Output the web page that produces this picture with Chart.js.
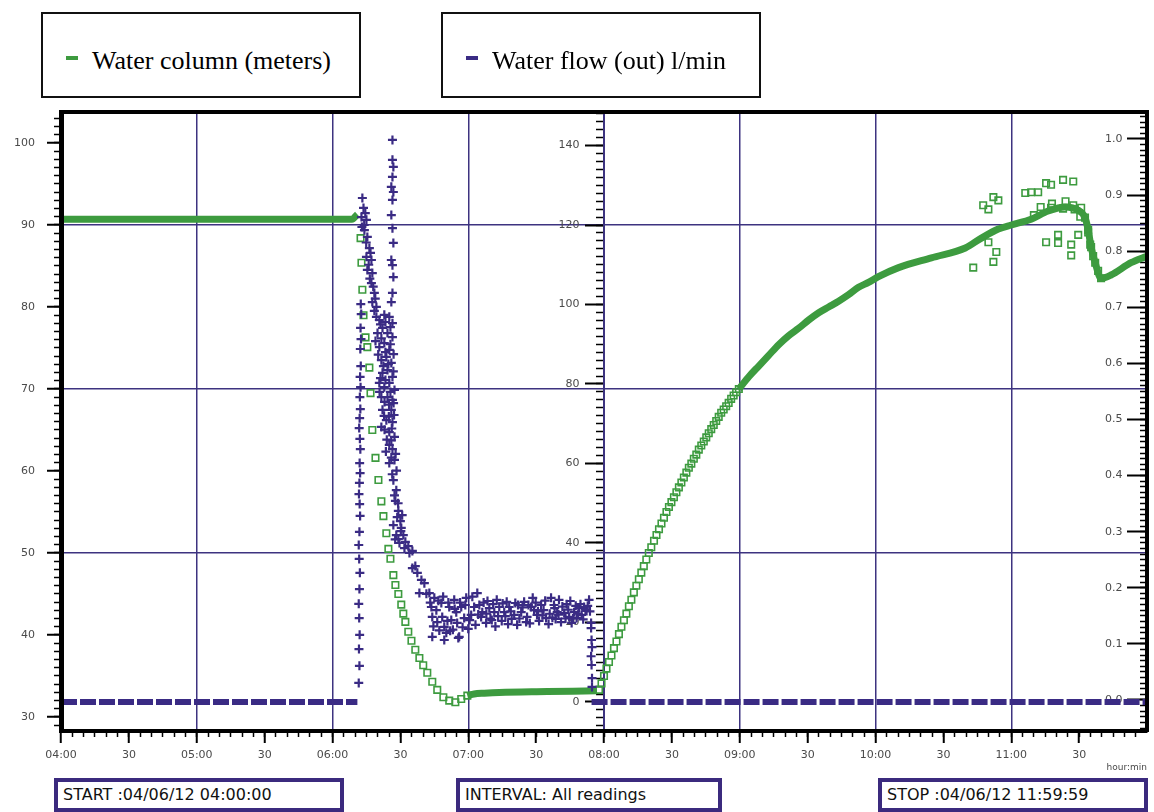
<!DOCTYPE html>
<html>
<head>
<meta charset="utf-8">
<title>Water column / water flow</title>
<script src="https://cdn.jsdelivr.net/npm/chart.js@4.4.1/dist/chart.umd.min.js"></script>
<style>
  body { margin: 0; background: #fff; }
  #wrap { position: relative; width: 1154px; height: 812px; }
  #chart { position: absolute; left: 0; top: 0; }
  .lg { position: absolute; top: 12px; width: 320px; height: 86px; box-sizing: border-box;
        border: 2px solid #111; background: #fff; }
  .lg .mk { position: absolute; left: 23px; top: 42px; width: 12px; height: 4px; }
  .lg .tx { position: absolute; left: 49px; top: 34px; font: 26px/26px "Liberation Serif", serif; color: #000; white-space: nowrap; }
  .info { position: absolute; top: 778px; height: 34px; box-sizing: border-box; border: 4px solid #3b2a7e;
          background: #fff; font: 16px/26px "DejaVu Sans", sans-serif; color: #111; padding-left: 5px; white-space: nowrap; }
</style>
</head>
<body>
<div id="wrap">
  <canvas id="chart" width="1154" height="812"></canvas>

  <div class="lg" style="left:41px"><span class="mk" style="background:#3d9b3f"></span><span class="tx">Water column (meters)</span></div>
  <div class="lg" style="left:441px"><span class="mk" style="background:#3a2b84"></span><span class="tx">Water flow (out) l/min</span></div>

  <div class="info" style="left:54px; width:290px">START :04/06/12 04:00:00</div>
  <div class="info" style="left:456px; width:266px">INTERVAL: All readings</div>
  <div class="info" style="left:878px; width:270px">STOP :04/06/12 11:59:59</div>
</div>

<script>
// time axis in minutes after midnight (04:00 = 240, 12:00 = 720)
const timeTicks = [240, 270, 300, 330, 360, 390, 420, 450, 480, 510, 540, 570, 600, 630, 660, 690];
const timeTickLabels = ["04:00", "30", "05:00", "30", "06:00", "30", "07:00", "30",
                        "08:00", "30", "09:00", "30", "10:00", "30", "11:00", "30"];

const leftTicks = [30, 40, 50, 60, 70, 80, 90, 100];
const midTicks = [0, 20, 40, 60, 80, 100, 120, 140];
const rightTicks = [0, 0.1, 0.2, 0.3, 0.4, 0.5, 0.6, 0.7, 0.8, 0.9, 1.0];
const rightTickLabels = ["0.0", "0.1", "0.2", "0.3", "0.4", "0.5", "0.6", "0.7", "0.8", "0.9", "1.0"];

// water column (m) - solid parts of the trace, [time, value]; null breaks the line
const waterColumnLine = [
  [240, 90.7], [368.6, 90.7], [371.0, 91.3], [371.1, null],
  [419.6, 32.6], [422.6, 32.8], [427.1, 32.9], [433.7, 33.0], [455.0, 33.1], [476.9, 33.2], [477.0, null],
  [539.6, 70.0], [544.0, 71.5], [548.4, 72.8], [552.8, 74.1], [557.2, 75.4], [561.6, 76.5], [566.0, 77.4],
  [570.4, 78.4], [574.9, 79.3], [579.3, 80.0], [583.7, 80.7], [588.1, 81.5], [592.5, 82.4], [596.9, 83.0],
  [601.3, 83.7], [610.2, 84.8], [624.7, 86.0], [639.7, 87.2], [646.8, 88.4], [654.3, 89.5], [660.0, 90.0],
  [668.8, 90.7], [676.3, 91.7], [683.8, 92.2], [689.6, 91.8], [692.6, 90.9], [694.0, 89.4], [695.3, 87.3],
  [697.1, 85.4], [699.7, 83.5], [704.1, 83.9], [712.9, 85.4], [720.0, 86.2]
];

// water column (m) - single readings
const waterColumnReadings = [
  // drop
  [372.4, 88.4], [372.8, 85.4], [373.2, 82.1], [373.7, 79.0], [374.6, 76.3], [375.4, 75.1], [376.3, 72.6],
  [376.8, 69.5], [377.6, 65.0], [379.0, 61.6], [380.3, 58.9], [381.6, 56.3], [382.5, 54.5], [383.8, 52.4],
  [384.7, 50.5], [385.6, 49.3], [386.9, 47.3], [387.8, 46.1], [389.1, 45.0], [390.4, 43.7], [391.3, 42.6],
  [392.2, 41.6], [393.5, 40.4], [394.9, 39.3], [396.6, 38.2], [398.4, 37.2], [400.1, 36.3], [401.9, 35.4],
  [404.1, 34.3], [406.3, 33.3], [409.0, 32.4], [411.6, 32.0], [414.3, 31.8], [416.9, 32.2], [419.6, 32.6],
  // recovery 08:00 - 09:00
  [477.8, 33.3], [478.9, 34.1], [480.0, 35.0], [481.1, 35.9], [482.2, 36.7], [483.3, 37.5], [484.4, 38.4],
  [485.5, 39.2], [486.6, 40.1], [487.7, 41.0], [488.8, 41.8], [489.9, 42.6], [491.0, 43.5], [492.1, 44.3],
  [493.2, 45.2], [494.3, 46.0], [495.4, 46.8], [496.5, 47.6], [497.6, 48.4], [498.7, 49.2], [499.8, 50.0],
  [500.9, 50.7], [502.1, 51.5], [503.2, 52.2], [504.3, 52.9], [505.4, 53.6], [506.5, 54.3], [507.6, 55.0],
  [508.7, 55.6], [509.8, 56.2], [510.9, 56.8], [512.0, 57.4], [513.1, 58.0], [514.2, 58.6], [515.3, 59.2],
  [516.4, 59.8], [517.5, 60.4], [518.6, 60.9], [519.7, 61.5], [520.8, 62.0], [521.9, 62.6], [523.0, 63.1],
  [524.1, 63.6], [525.2, 64.1], [526.3, 64.6], [527.4, 65.1], [528.5, 65.6], [529.6, 66.1], [530.7, 66.6],
  [531.8, 67.1], [532.9, 67.5], [534.0, 67.9], [535.1, 68.3], [536.2, 68.8], [537.3, 69.2], [538.4, 69.6],
  [539.6, 70.0],
  // scatter around 10:40 - 11:35
  [643.2, 84.8], [647.6, 92.4], [649.9, 91.9], [649.9, 87.9], [652.1, 93.4], [652.1, 85.5], [653.4, 86.7],
  [654.3, 93.0], [666.2, 93.9], [668.8, 94.0], [671.9, 94.0], [675.4, 95.1], [675.4, 87.9], [677.6, 94.9],
  [677.6, 92.1], [680.7, 88.8], [680.7, 87.8], [682.9, 95.5], [682.9, 92.0], [686.5, 87.6], [686.5, 86.3],
  [687.4, 95.3], [687.4, 92.4], [689.6, 88.8], [690.9, 92.1], [694.0, 89.1], [694.9, 87.6],
  [670.0, 91.2], [673.0, 92.2], [678.0, 92.6], [684.0, 92.9], [688.0, 91.9], [690.5, 91.0],
  [692.6, 90.9], [694.0, 89.4], [695.3, 87.3], [696.2, 86.2], [697.1, 85.4], [698.4, 84.4], [699.7, 83.5]
];

// water flow (l/min) - baseline at zero, [time, value]
const flowBaseline = [[240, 0], [371.0, 0], [371.1, null], [474.5, 0], [720, 0]];

// water flow (l/min) - single readings during the event
const flowReadings = [
  // rising edge
  [371.6, 4.8], [371.9, 9.1], [371.7, 13.3], [372.0, 16.9], [371.8, 21.1], [371.6, 24.7], [371.9, 28.4],
  [372.1, 32.5], [371.8, 36.0], [371.6, 39.5], [371.9, 42.8], [372.2, 46.8], [372.0, 49.8], [371.7, 52.3],
  [371.9, 55.1], [372.2, 57.6], [372.0, 60.1], [372.3, 63.6], [372.1, 66.2], [371.8, 68.9], [372.0, 71.4],
  [372.3, 73.7], [372.1, 76.7], [372.4, 79.2], [372.2, 81.8], [372.5, 84.5], [372.3, 88.8], [372.6, 91.3],
  [372.4, 94.1], [372.7, 97.6], [372.5, 100.1],
  // first peak
  [373.2, 126.8], [373.7, 124.3], [372.8, 122.0], [375.0, 121.3], [374.1, 118.7], [375.4, 117.0],
  [376.3, 114.2], [375.0, 112.0], [377.2, 111.2], [375.4, 108.7], [377.6, 107.9], [377.2, 105.4],
  [378.5, 102.9], [377.6, 100.6], [379.4, 99.4], [374.5, 123.0], [373.0, 119.5], [374.9, 115.6],
  [376.8, 113.0], [376.0, 110.0], [378.0, 104.5], [378.9, 101.5], [376.5, 106.5], [374.0, 120.0],
  // second peak
  [386.5, 141.4], [386.5, 136.4], [386.9, 134.6], [386.5, 132.1], [386.0, 129.6], [386.9, 128.3],
  [386.5, 126.3], [386.0, 122.5], [386.5, 119.2], [386.9, 115.5], [386.0, 111.2], [386.5, 109.9],
  [386.9, 106.9], [386.5, 102.9], [386.0, 100.6],
  // main block
  [379.4, 96.9], [380.7, 96.1], [382.9, 97.4], [385.1, 96.9], [386.5, 95.3], [379.9, 92.8], [382.1, 94.1],
  [384.3, 92.8], [386.5, 91.8], [380.7, 89.3], [382.9, 90.3], [385.1, 88.6], [381.6, 86.0], [383.8, 86.8],
  [386.0, 85.3], [382.1, 82.8], [384.3, 83.5], [386.5, 81.8], [380.7, 80.3], [382.9, 79.2], [385.1, 80.3],
  [387.4, 78.5], [381.6, 76.7], [384.3, 76.7], [386.5, 76.0], [382.1, 73.5], [386.0, 73.5], [383.8, 70.9],
  [386.5, 70.4], [381.6, 69.2], [385.1, 67.9], [387.4, 66.7], [385.1, 64.7], [386.5, 63.6], [387.4, 60.9],
  [378.5, 98.4], [381.2, 95.0], [383.4, 95.6], [385.6, 94.3], [379.0, 90.8], [381.6, 91.5], [383.4, 88.0],
  [385.6, 90.0], [387.0, 87.5], [380.2, 87.4], [382.5, 84.5], [384.7, 85.0], [386.9, 83.2], [381.2, 81.5],
  [383.4, 81.0], [385.6, 78.0], [387.0, 75.2], [380.8, 78.0], [383.0, 75.5], [385.0, 74.8], [382.8, 72.0],
  [384.9, 71.8], [387.2, 72.2], [383.0, 68.5], [386.2, 68.8], [384.0, 66.0], [386.0, 65.8], [383.6, 63.0],
  [386.0, 61.5], [387.9, 62.4], [388.3, 58.2], [386.4, 57.3],
  // fall
  [385.1, 60.1], [386.9, 55.8], [388.2, 53.3], [387.8, 50.6], [389.1, 48.1], [390.0, 45.5], [386.9, 44.5],
  [390.4, 43.8], [391.3, 42.0], [388.2, 42.0], [389.1, 41.0], [392.2, 40.3], [389.6, 40.0], [393.5, 39.2],
  [391.8, 38.7], [395.3, 38.0], [394.0, 37.5], [396.6, 34.2], [395.3, 33.7], [397.5, 32.5], [399.3, 30.7],
  [400.6, 29.9], [398.4, 27.4], [401.5, 27.2], [387.4, 52.0], [389.0, 50.0], [388.6, 46.5], [390.8, 47.0],
  [390.2, 43.0], [387.7, 40.9],
  // steady flow 06:45 - 08:00
  [402.8, 27.4], [403.7, 23.9], [404.1, 21.4], [405.0, 26.2], [405.9, 23.1], [406.3, 20.1], [404.1, 16.4],
  [408.1, 24.9], [408.5, 21.4], [409.4, 18.9], [410.3, 17.4], [411.6, 23.9], [412.5, 20.6], [413.8, 25.7],
  [414.7, 22.6], [415.1, 19.9], [416.0, 16.4], [416.9, 23.9], [418.2, 21.1], [419.1, 26.2], [421.3, 21.9],
  [422.6, 23.9], [424.0, 27.4], [424.9, 24.4], [425.7, 21.4], [426.2, 22.6], [427.9, 19.9], [429.3, 23.6],
  [431.5, 22.6], [433.7, 23.9], [435.9, 22.6], [438.1, 23.9], [440.3, 21.9], [441.6, 19.4], [443.4, 22.6],
  [444.7, 25.2], [446.0, 21.4], [447.8, 23.9], [449.1, 23.1], [450.4, 21.9], [452.2, 24.4], [454.4, 21.1],
  [456.6, 26.2], [457.9, 24.4], [459.3, 22.6], [461.0, 20.1], [462.4, 22.4], [464.6, 21.4], [466.8, 22.6],
  [469.0, 23.6], [471.2, 23.9], [473.4, 25.7],
  [409.4, 15.6], [412.0, 17.9], [415.6, 16.1], [420.0, 18.4],
  [428.5, 25.4], [430.4, 20.6], [432.6, 25.7], [434.8, 20.4], [437.0, 25.2], [439.2, 20.9], [442.0, 24.4],
  [445.6, 20.1], [448.5, 26.2], [451.3, 20.4], [453.3, 23.1], [455.5, 19.6], [458.6, 20.9], [460.1, 25.7],
  [463.5, 24.6], [465.7, 19.9], [467.9, 21.1], [470.1, 21.9], [472.3, 22.9],
  [403.2, 25.0], [404.6, 19.0], [406.8, 25.5], [407.2, 18.0], [408.9, 26.5], [410.8, 20.4], [411.2, 25.0],
  [413.2, 18.2], [414.0, 23.4], [416.4, 25.0], [417.5, 18.8], [418.7, 24.4], [420.6, 20.6], [421.8, 26.5],
  [423.2, 19.4], [424.4, 22.0], [426.8, 25.0], [428.0, 22.2], [429.8, 21.0], [431.0, 24.6], [432.0, 19.0],
  [433.2, 21.6], [435.2, 24.8], [436.4, 21.6], [437.6, 19.6], [438.8, 22.8], [440.8, 24.9], [442.6, 21.0],
  [444.0, 23.8], [446.6, 24.4], [447.2, 19.8], [449.8, 25.0], [450.8, 22.8], [452.8, 21.8], [454.0, 25.5],
  [456.0, 22.2], [457.2, 21.2], [458.2, 23.6], [459.9, 22.0], [461.6, 24.0], [463.0, 21.0], [464.2, 23.2],
  [465.1, 25.4], [466.3, 21.0], [467.5, 24.2], [468.6, 22.2], [469.6, 24.6], [470.8, 20.8], [471.8, 23.2],
  [472.8, 24.2], [473.8, 22.8],
  // stop
  [474.3, 19.9], [474.3, 18.6], [474.5, 15.6], [474.7, 13.8], [474.3, 11.5], [474.5, 9.3], [474.7, 6.0], [474.7, 3.8]
];

const GREEN = "#3d9b3f";
const PURPLE = "#3a2b84";
const GRID = "#3d3380";
const gridLevels = [50, 70, 90];
const tickFont = { family: "DejaVu Sans", size: 11 };
const tickColor = "#4a4a4a";
// labels of the inner axes sit left of their tick marks
const LABEL_GAP = "       ";

// visible ranges of the three vertical scales (they share one plot area)
const leftMin = 28.29, leftMax = 103.78;
const midMin = -7.30, midMax = 148.43;
const rightMin = -0.0553, rightMax = 1.048;

// positions of the small unlabelled ticks
function minorSteps(from, to, step) {
    const out = [];
    for (let v = from; v <= to + 1e-9; v += step) out.push(+v.toFixed(4));
    return out;
}
const asTicks = (values) => values.map(v => ({ value: v }));

const minor = { ticks: { display: false }, grid: { drawOnChartArea: false, tickColor: "#000", tickWidth: 1.5 }, border: { display: false } };

new Chart(document.getElementById("chart"), {
    type: "scatter",
    data: {
        datasets: [
            {
                label: "Water flow (out) l/min",
                data: flowReadings,
                yAxisID: "yMid",
                pointStyle: "cross",
                pointRadius: 4.5,
                borderWidth: 2.2,
                borderColor: PURPLE,
                backgroundColor: PURPLE
            },
            {
                label: "Water flow (out) l/min",
                data: flowBaseline,
                yAxisID: "yMid",
                showLine: true,
                pointRadius: 0,
                borderWidth: 6,
                borderDash: [16, 3],
                borderColor: PURPLE
            },
            {
                label: "Water column (meters)",
                data: waterColumnReadings,
                yAxisID: "yLeft",
                pointStyle: "rect",
                pointRadius: 4.6,
                borderWidth: 1.6,
                borderColor: GREEN,
                backgroundColor: "rgba(0,0,0,0)"
            },
            {
                label: "Water column (meters)",
                data: waterColumnLine,
                yAxisID: "yLeft",
                showLine: true,
                spanGaps: false,
                cubicInterpolationMode: "monotone",
                pointRadius: 0,
                borderWidth: 7,
                borderColor: GREEN
            }
        ]
    },
    options: {
        responsive: false,
        animation: false,
        devicePixelRatio: 1,
        events: [],
        layout: { padding: { top: 112, right: 7, bottom: 31, left: 0 } },
        plugins: { legend: { display: false }, tooltip: { enabled: false } },
        scales: {
            x: {
                type: "linear", position: "bottom", min: 240, max: 720, bounds: "data",
                afterBuildTicks: s => { s.ticks = asTicks(timeTicks); },
                afterFit: s => { s.height = 50; },
                ticks: {
                    autoSkip: false, maxRotation: 0, padding: 6, font: tickFont, color: tickColor,
                    callback: (v, i) => timeTickLabels[i]
                },
                grid: {
                    color: c => (c.tick && c.tick.value % 60 === 0 && c.tick.value > 240) ? GRID : "rgba(0,0,0,0)",
                    lineWidth: 1.5, tickLength: 12, tickColor: "#000", tickWidth: 2
                },
                border: { color: "#000", width: 4, z: 1 },
                title: {
                    display: true, text: "hour:min", align: "end", color: tickColor,
                    font: { family: "DejaVu Sans", size: 9 }, padding: { top: 0, bottom: 8 }
                }
            },
            xMinor: {
                type: "linear", axis: "x", position: { yLeft: leftMin }, min: 240, max: 720, bounds: "data",
                afterBuildTicks: s => { s.ticks = asTicks(minorSteps(245, 715, 5)); },
                ticks: minor.ticks,
                grid: { ...minor.grid, tickLength: 6 },
                border: minor.border
            },
            xTop: {
                type: "linear", axis: "x", position: "top", min: 240, max: 720, bounds: "data",
                ticks: { display: false },
                grid: { display: false, drawTicks: false },
                border: { color: "#000", width: 4, z: 1 }
            },
            yLeft: {
                type: "linear", axis: "y", position: "left", min: leftMin, max: leftMax, bounds: "data",
                afterBuildTicks: s => { s.ticks = asTicks(leftTicks); },
                afterFit: s => { s.width = 61; },
                ticks: { padding: 12, font: tickFont, color: tickColor, callback: (v, i) => String(leftTicks[i]) },
                grid: {
                    color: c => (c.tick && gridLevels.includes(c.tick.value)) ? GRID : "rgba(0,0,0,0)",
                    lineWidth: 1.5, tickLength: 14, tickColor: "#000", tickWidth: 2
                },
                border: { color: "#000", width: 5, z: 1 }
            },
            yLeftMinor: {
                type: "linear", axis: "y", position: { x: 240 }, min: leftMin, max: leftMax, bounds: "data",
                afterBuildTicks: s => { s.ticks = asTicks(minorSteps(29, 103, 1)); },
                ticks: minor.ticks,
                grid: { ...minor.grid, tickLength: 7 },
                border: minor.border
            },
            yMid: {
                type: "linear", axis: "y", position: { x: 480 }, min: midMin, max: midMax, bounds: "data",
                afterBuildTicks: s => { s.ticks = asTicks(midTicks); },
                ticks: { font: tickFont, color: tickColor, callback: (v, i) => String(midTicks[i]) + LABEL_GAP },
                grid: { drawOnChartArea: false, tickLength: 18, tickColor: "#000", tickWidth: 2 },
                border: { color: GRID, width: 2 }
            },
            yMidMinor: {
                type: "linear", axis: "y", position: { x: 480 }, min: midMin, max: midMax, bounds: "data",
                afterBuildTicks: s => { s.ticks = asTicks(minorSteps(-6, 148, 2)); },
                ticks: minor.ticks,
                grid: { ...minor.grid, tickLength: 8 },
                border: minor.border
            },
            yRight: {
                type: "linear", axis: "y", position: { x: 720 }, min: rightMin, max: rightMax, bounds: "data",
                afterBuildTicks: s => { s.ticks = asTicks(rightTicks); },
                ticks: { font: tickFont, color: tickColor, callback: (v, i) => rightTickLabels[i] + LABEL_GAP },
                grid: { drawOnChartArea: false, tickLength: 18, tickColor: "#000", tickWidth: 2 },
                border: { color: "#000", width: 4, z: 1 }
            },
            yRightMinor: {
                type: "linear", axis: "y", position: { x: 720 }, min: rightMin, max: rightMax, bounds: "data",
                afterBuildTicks: s => { s.ticks = asTicks(minorSteps(-0.05, 1.04, 0.01)); },
                ticks: minor.ticks,
                grid: { ...minor.grid, tickLength: 7 },
                border: minor.border
            }
        }
    }
});
</script>
</body>
</html>
